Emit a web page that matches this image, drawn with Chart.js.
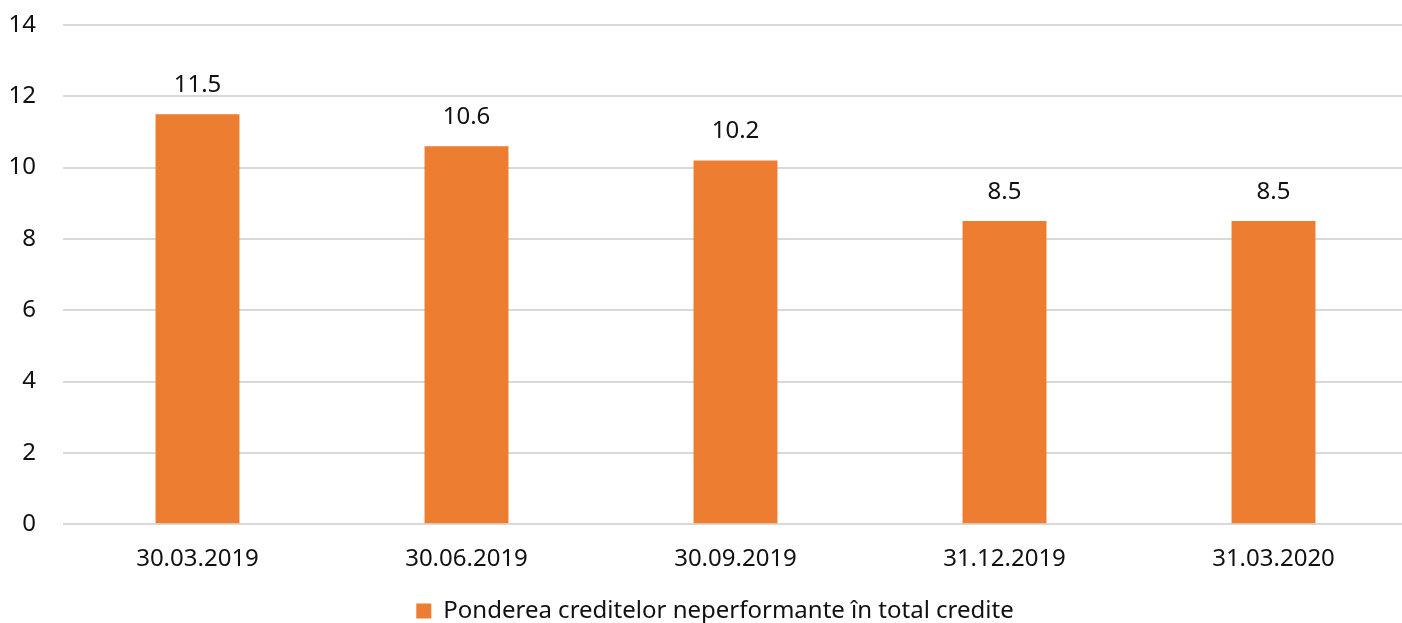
<!DOCTYPE html>
<html>
<head>
<meta charset="utf-8">
<script src="https://cdn.jsdelivr.net/npm/chart.js@4"></script>
<style>
html,body{margin:0;padding:0;background:#fff;overflow:hidden;}
#wrap{position:relative;width:1412px;height:623px;}
</style>
</head>
<body>
<div id="wrap"><canvas id="c"></canvas></div>
<script>
const categories = ['30.03.2019','30.06.2019','30.09.2019','31.12.2019','31.03.2020'];
const values = [11.5, 10.6, 10.2, 8.5, 8.5];
const seriesName = 'Ponderea creditelor neperformante în total credite';
const yTicks = [0, 2, 4, 6, 8, 10, 12, 14];

const FONT = '"Noto Sans", "Open Sans", sans-serif';
const TEXT = '#111';

const labelPlugin = {
  id: 'barLabels',
  afterDatasetsDraw(chart) {
    const ctx = chart.ctx;
    ctx.save();
    ctx.font = '24px ' + FONT;
    ctx.fillStyle = TEXT;
    ctx.textAlign = 'center';
    ctx.textBaseline = 'alphabetic';
    chart.getDatasetMeta(0).data.forEach((bar, i) => {
      ctx.fillText(values[i].toFixed(1), bar.x, bar.y - 22);
    });
    ctx.restore();
  }
};

const legendShift = {
  id: 'legendShift',
  afterLayout(chart) {
    const l = chart.legend;
    if (l) { l.left += 7; l.right += 7; }
  }
};

new Chart(document.getElementById('c'), {
  type: 'bar',
  data: {
    labels: categories,
    datasets: [{
      label: seriesName,
      data: values,
      backgroundColor: '#ED7D31',
      borderWidth: 0,
      categoryPercentage: 1,
      barPercentage: 0.312
    }]
  },
  options: {
    responsive: true,
    maintainAspectRatio: false,
    animation: false,
    devicePixelRatio: 1,
    layout: { padding: { left: 8, right: 4, top: 25, bottom: -10 } },
    plugins: {
      legend: {
        position: 'bottom',
        labels: {
          font: { family: FONT, size: 24 },
          color: TEXT,
          boxWidth: 15,
          boxHeight: 15,
          padding: 12
        }
      },
      tooltip: { enabled: false }
    },
    scales: {
      x: {
        grid: { display: false },
        border: { display: false },
        ticks: { font: { family: FONT, size: 24 }, color: TEXT, padding: 13 },
        afterFit(s) { s.paddingLeft = 0; s.paddingRight = 0; }
      },
      y: {
        min: 0,
        max: 14,
        afterBuildTicks(axis) { axis.ticks = yTicks.map(v => ({ value: v })); },
        afterFit(s) { s.paddingTop = 0; s.paddingBottom = 0; s.width = 55; },
        grid: { color: '#d9d9d9', lineWidth: 2, drawTicks: false },
        border: { display: false },
        ticks: { font: { family: FONT, size: 24 }, color: TEXT, padding: 27 }
      }
    }
  },
  plugins: [labelPlugin, legendShift]
});
</script>
</body>
</html>
